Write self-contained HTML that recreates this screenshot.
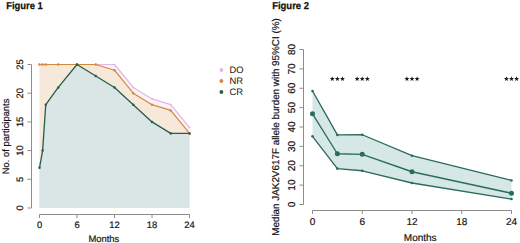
<!DOCTYPE html>
<html><head><meta charset="utf-8"><style>
html,body{margin:0;padding:0;background:#fff;width:520px;height:243px;overflow:hidden}
svg{display:block}
text{text-rendering:geometricPrecision}
</style></head><body>
<svg width="520" height="243" viewBox="0 0 520 243">
<rect x="0" y="0" width="520" height="243" fill="#fff"/>
<text x="6.2" y="9.2" font-family="Liberation Sans, sans-serif" font-weight="bold" font-size="10" fill="#111" stroke="#111" stroke-width="0.25" textLength="36.6" lengthAdjust="spacingAndGlyphs">Figure 1</text>
<text x="272.2" y="9.2" font-family="Liberation Sans, sans-serif" font-weight="bold" font-size="10" fill="#111" stroke="#111" stroke-width="0.25" textLength="36.8" lengthAdjust="spacingAndGlyphs">Figure 2</text>
<polygon points="39.50,64.50 42.62,64.50 45.75,64.50 58.25,64.50 77.00,64.50 95.75,64.50 114.50,64.50 133.25,87.46 152.00,98.94 170.75,104.68 189.50,127.64 189.50,208.00 39.50,208.00" fill="#fcf2fa"/>
<polygon points="39.50,64.50 42.62,64.50 45.75,64.50 58.25,64.50 77.00,64.50 95.75,64.50 114.50,70.24 133.25,93.20 152.00,104.68 170.75,110.42 189.50,133.38 189.50,208.00 39.50,208.00" fill="#f7e9da"/>
<polygon points="39.50,167.82 42.62,150.60 45.75,104.68 58.25,87.46 77.00,64.50 95.75,75.98 114.50,87.46 133.25,104.68 152.00,121.90 170.75,133.38 189.50,133.38 189.50,208.00 39.50,208.00" fill="#d9e6e5"/>
<polyline points="39.50,64.50 42.62,64.50 45.75,64.50 58.25,64.50 77.00,64.50 95.75,64.50 114.50,64.50 133.25,87.46 152.00,98.94 170.75,104.68 189.50,127.64" fill="none" stroke="#e2b6e6" stroke-width="1.2" stroke-linejoin="round"/>
<circle cx="39.50" cy="64.50" r="0.9" fill="#e2b6e6"/>
<circle cx="42.62" cy="64.50" r="0.9" fill="#e2b6e6"/>
<circle cx="45.75" cy="64.50" r="0.9" fill="#e2b6e6"/>
<circle cx="58.25" cy="64.50" r="0.9" fill="#e2b6e6"/>
<circle cx="77.00" cy="64.50" r="0.9" fill="#e2b6e6"/>
<circle cx="95.75" cy="64.50" r="0.9" fill="#e2b6e6"/>
<circle cx="114.50" cy="64.50" r="0.9" fill="#e2b6e6"/>
<circle cx="133.25" cy="87.46" r="0.9" fill="#e2b6e6"/>
<circle cx="152.00" cy="98.94" r="0.9" fill="#e2b6e6"/>
<circle cx="170.75" cy="104.68" r="0.9" fill="#e2b6e6"/>
<circle cx="189.50" cy="127.64" r="0.9" fill="#e2b6e6"/>
<polyline points="39.50,64.50 42.62,64.50 45.75,64.50 58.25,64.50 77.00,64.50 95.75,64.50 114.50,70.24 133.25,93.20 152.00,104.68 170.75,110.42 189.50,133.38" fill="none" stroke="#d3893d" stroke-width="1.2" stroke-linejoin="round"/>
<circle cx="39.50" cy="64.50" r="1.25" fill="#d3893d"/>
<circle cx="42.62" cy="64.50" r="1.25" fill="#d3893d"/>
<circle cx="45.75" cy="64.50" r="1.25" fill="#d3893d"/>
<circle cx="58.25" cy="64.50" r="1.25" fill="#d3893d"/>
<circle cx="77.00" cy="64.50" r="1.25" fill="#d3893d"/>
<circle cx="95.75" cy="64.50" r="1.25" fill="#d3893d"/>
<circle cx="114.50" cy="70.24" r="1.25" fill="#d3893d"/>
<circle cx="133.25" cy="93.20" r="1.25" fill="#d3893d"/>
<circle cx="152.00" cy="104.68" r="1.25" fill="#d3893d"/>
<circle cx="170.75" cy="110.42" r="1.25" fill="#d3893d"/>
<circle cx="189.50" cy="133.38" r="1.25" fill="#d3893d"/>
<polyline points="39.50,167.82 42.62,150.60 45.75,104.68 58.25,87.46 77.00,64.50 95.75,75.98 114.50,87.46 133.25,104.68 152.00,121.90 170.75,133.38 189.50,133.38" fill="none" stroke="#275d4b" stroke-width="1.3" stroke-linejoin="round"/>
<circle cx="39.50" cy="167.82" r="1.25" fill="#275d4b"/>
<circle cx="42.62" cy="150.60" r="1.25" fill="#275d4b"/>
<circle cx="45.75" cy="104.68" r="1.25" fill="#275d4b"/>
<circle cx="58.25" cy="87.46" r="1.25" fill="#275d4b"/>
<circle cx="77.00" cy="64.50" r="1.25" fill="#275d4b"/>
<circle cx="95.75" cy="75.98" r="1.25" fill="#275d4b"/>
<circle cx="114.50" cy="87.46" r="1.25" fill="#275d4b"/>
<circle cx="133.25" cy="104.68" r="1.25" fill="#275d4b"/>
<circle cx="152.00" cy="121.90" r="1.25" fill="#275d4b"/>
<circle cx="170.75" cy="133.38" r="1.25" fill="#275d4b"/>
<circle cx="189.50" cy="133.38" r="1.25" fill="#275d4b"/>
<line x1="31.5" y1="64.50" x2="31.5" y2="208.00" stroke="#8c8c8c" stroke-width="1.0"/>
<line x1="27.5" y1="208.00" x2="31.5" y2="208.00" stroke="#8c8c8c" stroke-width="1.0"/>
<text transform="translate(23.40 208.00) rotate(-90)" text-anchor="middle" font-family="Liberation Sans, sans-serif" font-size="9.4" fill="#141414" stroke="#141414" stroke-width="0.2">0</text>
<line x1="27.5" y1="179.30" x2="31.5" y2="179.30" stroke="#8c8c8c" stroke-width="1.0"/>
<text transform="translate(23.40 179.30) rotate(-90)" text-anchor="middle" font-family="Liberation Sans, sans-serif" font-size="9.4" fill="#141414" stroke="#141414" stroke-width="0.2">5</text>
<line x1="27.5" y1="150.60" x2="31.5" y2="150.60" stroke="#8c8c8c" stroke-width="1.0"/>
<text transform="translate(23.40 150.60) rotate(-90)" text-anchor="middle" font-family="Liberation Sans, sans-serif" font-size="9.4" fill="#141414" stroke="#141414" stroke-width="0.2">10</text>
<line x1="27.5" y1="121.90" x2="31.5" y2="121.90" stroke="#8c8c8c" stroke-width="1.0"/>
<text transform="translate(23.40 121.90) rotate(-90)" text-anchor="middle" font-family="Liberation Sans, sans-serif" font-size="9.4" fill="#141414" stroke="#141414" stroke-width="0.2">15</text>
<line x1="27.5" y1="93.20" x2="31.5" y2="93.20" stroke="#8c8c8c" stroke-width="1.0"/>
<text transform="translate(23.40 93.20) rotate(-90)" text-anchor="middle" font-family="Liberation Sans, sans-serif" font-size="9.4" fill="#141414" stroke="#141414" stroke-width="0.2">20</text>
<line x1="27.5" y1="64.50" x2="31.5" y2="64.50" stroke="#8c8c8c" stroke-width="1.0"/>
<text transform="translate(23.40 64.50) rotate(-90)" text-anchor="middle" font-family="Liberation Sans, sans-serif" font-size="9.4" fill="#141414" stroke="#141414" stroke-width="0.2">25</text>
<line x1="39.50" y1="214.5" x2="189.50" y2="214.5" stroke="#8c8c8c" stroke-width="1.0"/>
<line x1="39.50" y1="214.5" x2="39.50" y2="218.0" stroke="#8c8c8c" stroke-width="1.0"/>
<text x="39.50" y="227.90" text-anchor="middle" font-family="Liberation Sans, sans-serif" font-size="9.4" fill="#141414" stroke="#141414" stroke-width="0.2">0</text>
<line x1="77.00" y1="214.5" x2="77.00" y2="218.0" stroke="#8c8c8c" stroke-width="1.0"/>
<text x="77.00" y="227.90" text-anchor="middle" font-family="Liberation Sans, sans-serif" font-size="9.4" fill="#141414" stroke="#141414" stroke-width="0.2">6</text>
<line x1="114.50" y1="214.5" x2="114.50" y2="218.0" stroke="#8c8c8c" stroke-width="1.0"/>
<text x="114.50" y="227.90" text-anchor="middle" font-family="Liberation Sans, sans-serif" font-size="9.4" fill="#141414" stroke="#141414" stroke-width="0.2">12</text>
<line x1="152.00" y1="214.5" x2="152.00" y2="218.0" stroke="#8c8c8c" stroke-width="1.0"/>
<text x="152.00" y="227.90" text-anchor="middle" font-family="Liberation Sans, sans-serif" font-size="9.4" fill="#141414" stroke="#141414" stroke-width="0.2">18</text>
<line x1="189.50" y1="214.5" x2="189.50" y2="218.0" stroke="#8c8c8c" stroke-width="1.0"/>
<text x="189.50" y="227.90" text-anchor="middle" font-family="Liberation Sans, sans-serif" font-size="9.4" fill="#141414" stroke="#141414" stroke-width="0.2">24</text>
<text x="103.90" y="241.90" text-anchor="middle" font-family="Liberation Sans, sans-serif" font-size="9.4" fill="#141414" stroke="#141414" stroke-width="0.2">Months</text>
<text transform="translate(8.70 136.40) rotate(-90)" text-anchor="middle" font-family="Liberation Sans, sans-serif" font-size="9.4" fill="#141414" stroke="#141414" stroke-width="0.2">No. of participants</text>
<circle cx="221.4" cy="70.00" r="1.9" fill="#e2b6e6"/>
<text x="229.60" y="73.20" font-family="Liberation Sans, sans-serif" font-size="9.4" fill="#141414" stroke="#141414" stroke-width="0.2" stroke-opacity="0">DO</text>
<circle cx="221.4" cy="81.00" r="1.9" fill="#d3893d"/>
<text x="229.60" y="84.20" font-family="Liberation Sans, sans-serif" font-size="9.4" fill="#141414" stroke="#141414" stroke-width="0.2" stroke-opacity="0">NR</text>
<circle cx="221.4" cy="92.00" r="1.9" fill="#275d4b"/>
<text x="229.60" y="95.20" font-family="Liberation Sans, sans-serif" font-size="9.4" fill="#141414" stroke="#141414" stroke-width="0.2" stroke-opacity="0">CR</text>
<polygon points="312.50,90.96 337.38,134.94 362.25,134.75 412.00,155.68 511.50,180.47 511.50,199.07 412.00,182.99 362.25,170.79 337.38,168.66 312.50,136.30" fill="#d6e8e5"/>
<polyline points="312.50,90.96 337.38,134.94 362.25,134.75 412.00,155.68 511.50,180.47" fill="none" stroke="#2a6c5c" stroke-width="1.35" stroke-linejoin="round"/>
<circle cx="312.50" cy="90.96" r="1.3" fill="#2a6c5c"/>
<circle cx="337.38" cy="134.94" r="1.3" fill="#2a6c5c"/>
<circle cx="362.25" cy="134.75" r="1.3" fill="#2a6c5c"/>
<circle cx="412.00" cy="155.68" r="1.3" fill="#2a6c5c"/>
<circle cx="511.50" cy="180.47" r="1.3" fill="#2a6c5c"/>
<polyline points="312.50,113.83 337.38,153.74 362.25,154.32 412.00,171.76 511.50,193.26" fill="none" stroke="#2a6c5c" stroke-width="1.35" stroke-linejoin="round"/>
<circle cx="312.50" cy="113.83" r="2.5" fill="#2a6c5c"/>
<circle cx="337.38" cy="153.74" r="2.5" fill="#2a6c5c"/>
<circle cx="362.25" cy="154.32" r="2.5" fill="#2a6c5c"/>
<circle cx="412.00" cy="171.76" r="2.5" fill="#2a6c5c"/>
<circle cx="511.50" cy="193.26" r="2.5" fill="#2a6c5c"/>
<polyline points="312.50,136.30 337.38,168.66 362.25,170.79 412.00,182.99 511.50,199.07" fill="none" stroke="#2a6c5c" stroke-width="1.35" stroke-linejoin="round"/>
<circle cx="312.50" cy="136.30" r="1.3" fill="#2a6c5c"/>
<circle cx="337.38" cy="168.66" r="1.3" fill="#2a6c5c"/>
<circle cx="362.25" cy="170.79" r="1.3" fill="#2a6c5c"/>
<circle cx="412.00" cy="182.99" r="1.3" fill="#2a6c5c"/>
<circle cx="511.50" cy="199.07" r="1.3" fill="#2a6c5c"/>
<line x1="303.5" y1="49.50" x2="303.5" y2="204.50" stroke="#8c8c8c" stroke-width="1.0"/>
<line x1="299.5" y1="204.50" x2="303.5" y2="204.50" stroke="#8c8c8c" stroke-width="1.0"/>
<text transform="translate(294.60 204.50) rotate(-90)" text-anchor="middle" font-family="Liberation Sans, sans-serif" font-size="10" fill="#141414" stroke="#141414" stroke-width="0.2">0</text>
<line x1="299.5" y1="185.12" x2="303.5" y2="185.12" stroke="#8c8c8c" stroke-width="1.0"/>
<text transform="translate(294.60 185.12) rotate(-90)" text-anchor="middle" font-family="Liberation Sans, sans-serif" font-size="10" fill="#141414" stroke="#141414" stroke-width="0.2">10</text>
<line x1="299.5" y1="165.75" x2="303.5" y2="165.75" stroke="#8c8c8c" stroke-width="1.0"/>
<text transform="translate(294.60 165.75) rotate(-90)" text-anchor="middle" font-family="Liberation Sans, sans-serif" font-size="10" fill="#141414" stroke="#141414" stroke-width="0.2">20</text>
<line x1="299.5" y1="146.38" x2="303.5" y2="146.38" stroke="#8c8c8c" stroke-width="1.0"/>
<text transform="translate(294.60 146.38) rotate(-90)" text-anchor="middle" font-family="Liberation Sans, sans-serif" font-size="10" fill="#141414" stroke="#141414" stroke-width="0.2">30</text>
<line x1="299.5" y1="127.00" x2="303.5" y2="127.00" stroke="#8c8c8c" stroke-width="1.0"/>
<text transform="translate(294.60 127.00) rotate(-90)" text-anchor="middle" font-family="Liberation Sans, sans-serif" font-size="10" fill="#141414" stroke="#141414" stroke-width="0.2">40</text>
<line x1="299.5" y1="107.62" x2="303.5" y2="107.62" stroke="#8c8c8c" stroke-width="1.0"/>
<text transform="translate(294.60 107.62) rotate(-90)" text-anchor="middle" font-family="Liberation Sans, sans-serif" font-size="10" fill="#141414" stroke="#141414" stroke-width="0.2">50</text>
<line x1="299.5" y1="88.25" x2="303.5" y2="88.25" stroke="#8c8c8c" stroke-width="1.0"/>
<text transform="translate(294.60 88.25) rotate(-90)" text-anchor="middle" font-family="Liberation Sans, sans-serif" font-size="10" fill="#141414" stroke="#141414" stroke-width="0.2">60</text>
<line x1="299.5" y1="68.88" x2="303.5" y2="68.88" stroke="#8c8c8c" stroke-width="1.0"/>
<text transform="translate(294.60 68.88) rotate(-90)" text-anchor="middle" font-family="Liberation Sans, sans-serif" font-size="10" fill="#141414" stroke="#141414" stroke-width="0.2">70</text>
<line x1="299.5" y1="49.50" x2="303.5" y2="49.50" stroke="#8c8c8c" stroke-width="1.0"/>
<text transform="translate(294.60 49.50) rotate(-90)" text-anchor="middle" font-family="Liberation Sans, sans-serif" font-size="10" fill="#141414" stroke="#141414" stroke-width="0.2">80</text>
<line x1="312.50" y1="210.5" x2="511.50" y2="210.5" stroke="#8c8c8c" stroke-width="1.0"/>
<line x1="312.50" y1="210.5" x2="312.50" y2="214.0" stroke="#8c8c8c" stroke-width="1.0"/>
<text x="312.50" y="224.90" text-anchor="middle" font-family="Liberation Sans, sans-serif" font-size="10" fill="#141414" stroke="#141414" stroke-width="0.2">0</text>
<line x1="362.25" y1="210.5" x2="362.25" y2="214.0" stroke="#8c8c8c" stroke-width="1.0"/>
<text x="362.25" y="224.90" text-anchor="middle" font-family="Liberation Sans, sans-serif" font-size="10" fill="#141414" stroke="#141414" stroke-width="0.2">6</text>
<line x1="412.00" y1="210.5" x2="412.00" y2="214.0" stroke="#8c8c8c" stroke-width="1.0"/>
<text x="412.00" y="224.90" text-anchor="middle" font-family="Liberation Sans, sans-serif" font-size="10" fill="#141414" stroke="#141414" stroke-width="0.2">12</text>
<line x1="461.75" y1="210.5" x2="461.75" y2="214.0" stroke="#8c8c8c" stroke-width="1.0"/>
<text x="461.75" y="224.90" text-anchor="middle" font-family="Liberation Sans, sans-serif" font-size="10" fill="#141414" stroke="#141414" stroke-width="0.2">18</text>
<line x1="511.50" y1="210.5" x2="511.50" y2="214.0" stroke="#8c8c8c" stroke-width="1.0"/>
<text x="511.50" y="224.90" text-anchor="middle" font-family="Liberation Sans, sans-serif" font-size="10" fill="#141414" stroke="#141414" stroke-width="0.2">24</text>
<text x="420.20" y="240.90" text-anchor="middle" font-family="Liberation Sans, sans-serif" font-size="10" fill="#141414" stroke="#141414" stroke-width="0.2">Months</text>
<text transform="translate(279.00 127.00) rotate(-90)" text-anchor="middle" font-family="Liberation Sans, sans-serif" font-size="9.87" fill="#141414" stroke="#141414" stroke-width="0.2">Median JAK2V617F allele burden with 95%CI (%)</text>
<polygon points="332.28,76.20 332.92,77.91 334.75,78.00 333.32,79.14 333.80,80.90 332.28,79.90 330.75,80.90 331.23,79.14 329.80,78.00 331.63,77.91" fill="#1a1a1a"/>
<polygon points="337.38,76.20 338.02,77.91 339.85,78.00 338.42,79.14 338.90,80.90 337.38,79.90 335.85,80.90 336.33,79.14 334.90,78.00 336.73,77.91" fill="#1a1a1a"/>
<polygon points="342.48,76.20 343.12,77.91 344.95,78.00 343.52,79.14 344.00,80.90 342.48,79.90 340.95,80.90 341.43,79.14 340.00,78.00 341.83,77.91" fill="#1a1a1a"/>
<polygon points="357.15,76.20 357.80,77.91 359.62,78.00 358.20,79.14 358.68,80.90 357.15,79.90 355.62,80.90 356.10,79.14 354.68,78.00 356.50,77.91" fill="#1a1a1a"/>
<polygon points="362.25,76.20 362.90,77.91 364.72,78.00 363.30,79.14 363.78,80.90 362.25,79.90 360.72,80.90 361.20,79.14 359.78,78.00 361.60,77.91" fill="#1a1a1a"/>
<polygon points="367.35,76.20 368.00,77.91 369.82,78.00 368.40,79.14 368.88,80.90 367.35,79.90 365.82,80.90 366.30,79.14 364.88,78.00 366.70,77.91" fill="#1a1a1a"/>
<polygon points="406.90,76.20 407.55,77.91 409.37,78.00 407.95,79.14 408.43,80.90 406.90,79.90 405.37,80.90 405.85,79.14 404.43,78.00 406.25,77.91" fill="#1a1a1a"/>
<polygon points="412.00,76.20 412.65,77.91 414.47,78.00 413.05,79.14 413.53,80.90 412.00,79.90 410.47,80.90 410.95,79.14 409.53,78.00 411.35,77.91" fill="#1a1a1a"/>
<polygon points="417.10,76.20 417.75,77.91 419.57,78.00 418.15,79.14 418.63,80.90 417.10,79.90 415.57,80.90 416.05,79.14 414.63,78.00 416.45,77.91" fill="#1a1a1a"/>
<polygon points="506.40,76.20 507.05,77.91 508.87,78.00 507.45,79.14 507.93,80.90 506.40,79.90 504.87,80.90 505.35,79.14 503.93,78.00 505.75,77.91" fill="#1a1a1a"/>
<polygon points="511.50,76.20 512.15,77.91 513.97,78.00 512.55,79.14 513.03,80.90 511.50,79.90 509.97,80.90 510.45,79.14 509.03,78.00 510.85,77.91" fill="#1a1a1a"/>
<polygon points="516.60,76.20 517.25,77.91 519.07,78.00 517.65,79.14 518.13,80.90 516.60,79.90 515.07,80.90 515.55,79.14 514.13,78.00 515.95,77.91" fill="#1a1a1a"/>
</svg>
</body></html>
